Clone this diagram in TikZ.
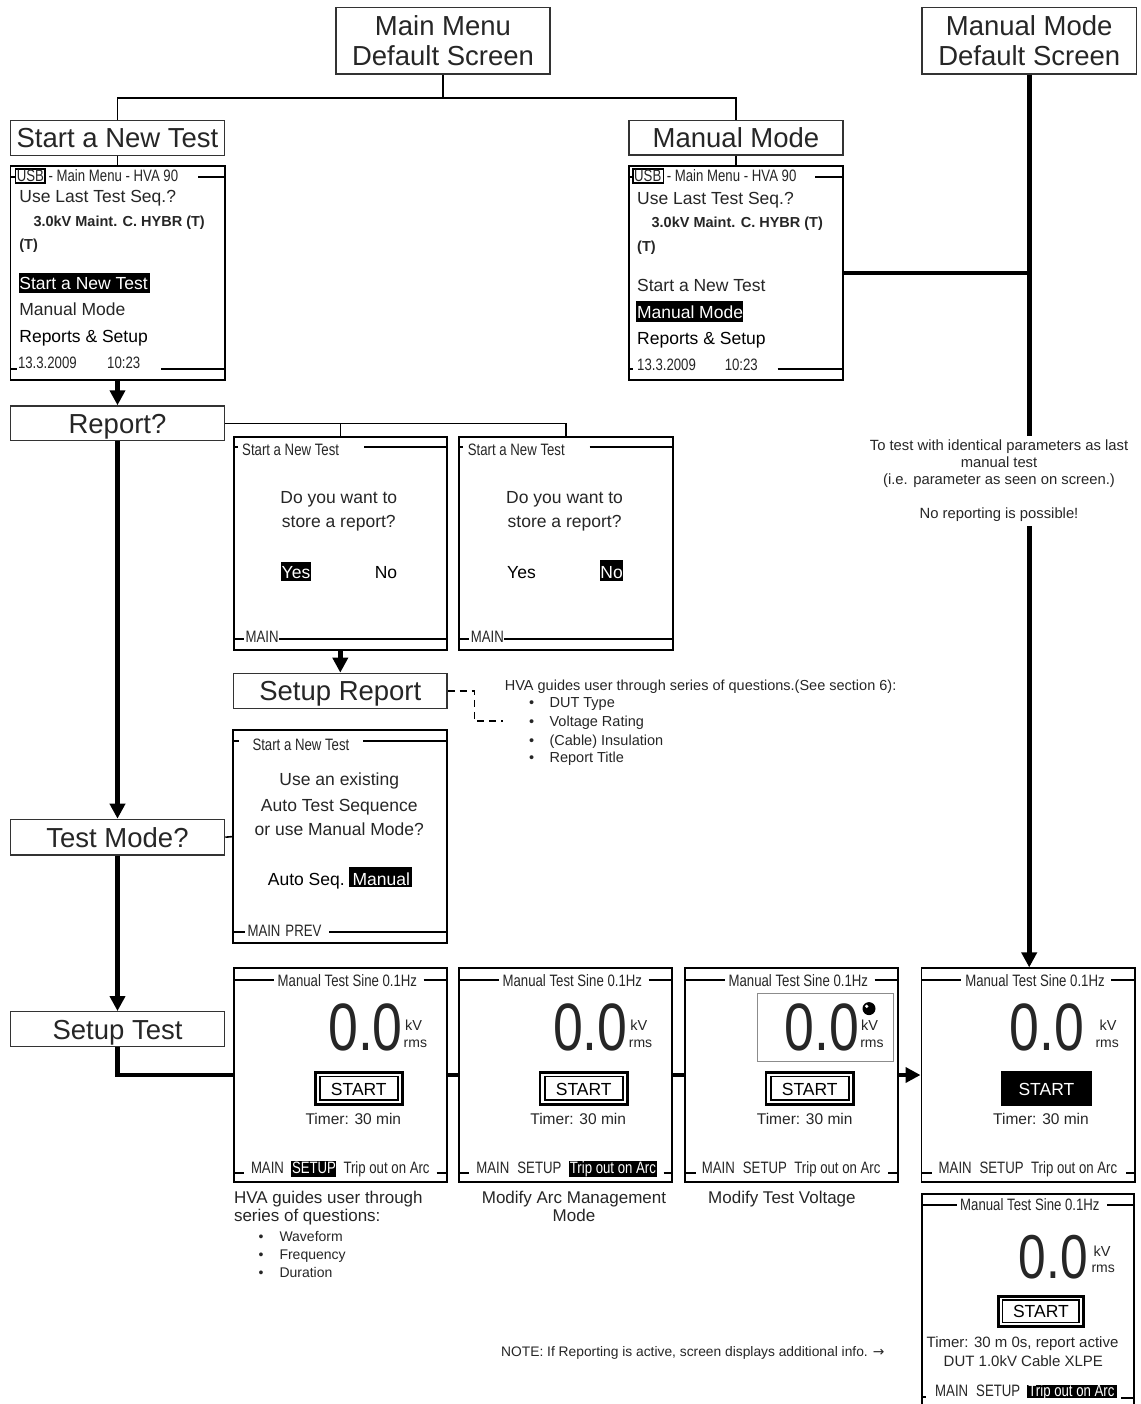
\documentclass[tikz,border=0pt]{standalone}
\usepackage{fontspec}
\setmainfont{Liberation Sans}
\newfontfamily\nrw[FakeStretch=0.8]{Liberation Sans}
\newfontfamily\djv{DejaVu Sans}
\usetikzlibrary{arrows.meta}
\newcommand\fsz[1]{\fontsize{#1}{#1}\selectfont}
\tikzset{
  lbl/.style={draw=black!80, line width=1.3pt, inner sep=0pt, text=black!85, font=\fontsize{27.5}{30.7}\selectfont},
  lblone/.style={lbl, text height=19.7pt, text depth=0pt},
  scr/.style={draw=black, line width=1.8pt, inner sep=0pt},
  sl/.style={line width=1.8pt},
  thk/.style={line width=4.6pt},
  thn/.style={line width=1.6pt},
  tip/.style={-{Triangle[length=15pt,width=15pt]}},
  tw/.style={inner sep=0pt, anchor=base west},
  tcn/.style={inner sep=0pt, anchor=base},
  nt/.style={font=\nrw\fsz{16.5}, text=black!85},
  mt/.style={font=\fsz{17.5}, text=black!85},
}
\newcommand\mtitle{%
  \draw[sl] (0,11.7) -- (40,11.7) (189.8,11.7) -- (213.2,11.7);
  \node[tw,nt] at (43.7,17.7) {Manual Test Sine 0.1Hz};}
\newcommand\mreading[3]{%
  \node[tw,font=\nrw\fsz{67},text=black!85] at (#1,82.4) {0.0};
  \node[tw,font=\fsz{14.5},text=black!85] at (#2,62.4) {kV};
  \node[tw,font=\fsz{14},text=black!85] at (#3,79) {rms};}
\newcommand\mstart{%
  \draw[line width=2.8pt] (81.3,104.1) rectangle (168.8,136);
  \draw[line width=1.6pt] (86,108.3) rectangle (164.1,131.8);
  \node[tcn,font=\fsz{17.5}] at (125,126.7) {START};}
\newcommand\mtimer[1]{\node[tcn,font=\fsz{15.5},text=black!85] at (#1,155.7) {Timer: 30 min};}
\begin{document}
\begin{tikzpicture}[x=1pt,y=-1pt]
\useasboundingbox (0,0) rectangle (1140,1404);
\clip (0,0) rectangle (1140,1404);
\fill[white] (0,0) rectangle (1140,1404);

% ---------- label boxes ----------
\node[lbl, minimum width=214pt, minimum height=66.7pt, align=center] (mm) at (443,40.7) {Main Menu\\Default Screen};
\node[lbl, minimum width=214.4pt, minimum height=66.7pt, align=center] (mmd) at (1029.2,40.7) {Manual Mode\\Default Screen};
\node[lblone, minimum width=214.2pt, minimum height=35pt] (start) at (117.5,137.8) {Start a New Test};
\node[lblone, minimum width=214pt, minimum height=34.6pt] (manual) at (736,137.8) {Manual Mode};
\node[lblone, minimum width=213.8pt, minimum height=34.7pt] (report) at (117.5,423.3) {Report?};
\node[lblone, minimum width=213.4pt, minimum height=35pt] (setuprep) at (340.3,690.8) {Setup Report};
\node[lblone, minimum width=214.3pt, minimum height=35.7pt] (testmode) at (117.5,837.2) {Test Mode?};
\node[lblone, minimum width=214.2pt, minimum height=35pt] (setuptest) at (117.5,1029.2) {Setup Test};

% ---------- screens ----------
\node[scr, minimum width=214.2pt, minimum height=214.3pt] (scrA) at (117.5,272.85) {};
\node[scr, minimum width=214pt, minimum height=214.3pt] (scrB) at (736,272.85) {};
\node[scr, minimum width=213.4pt, minimum height=213.3pt] (q1) at (340.3,543.35) {};
\node[scr, minimum width=213.8pt, minimum height=213.3pt] (q2) at (565.7,543.35) {};
\node[scr, minimum width=214pt, minimum height=213.3pt] (tms) at (339.7,836.65) {};
\node[scr, minimum width=213.2pt, minimum height=213.4pt] (s1) at (340.4,1075) {};
\node[scr, minimum width=213.3pt, minimum height=213.4pt] (s2) at (565.35,1075) {};
\node[scr, minimum width=213.1pt, minimum height=213.4pt] (s3) at (791.25,1075) {};
\node[scr, minimum width=213.9pt, minimum height=213.4pt] (s4) at (1028.35,1075) {};
\node[scr, minimum width=212.6pt, minimum height=240pt] (s5) at (1028,1314) {};

% ---------- note texts ----------
\node[font=\fontsize{14.8}{17}\selectfont, text=black!85, align=center, inner xsep=2pt, inner ysep=4pt, anchor=north] (note) at (999,436)
  {To test with identical parameters as last\\manual test\\(i.e. parameter as seen on screen.)\\[17pt]No reporting is possible!};

\coordinate (hvaend) at (503,721);
\node[tw,font=\fsz{14.5},text=black!85] (hva) at (504.7,690) {HVA guides user through series of questions.(See section 6):};
\foreach \yy/\tt in {707.3/DUT Type, 726.7/Voltage Rating, 745/(Cable) Insulation, 762.7/Report Title}{
  \node[tw,font=\fsz{14.5},text=black!85] at (529,\yy) {\textbullet};
  \node[tw,font=\fsz{14.5},text=black!85] at (549.4,\yy) {\tt};
}

% ---------- connectors ----------
\draw[thn] (mm.south) -- ++(0,23.3) coordinate (jn);
\draw[thn] (start.north) |- (jn) -| (manual.north);
\draw[thn] (start.south) -- (scrA.north);
\draw[thn] (manual.south) -- (scrB.north);
\draw[thk,tip] (scrA.south) -- (report.north);
\draw[thn] (report.east) -| (q2.north);
\draw[thn] (report.east -| q1.north) -- (q1.north);
\draw[thk,tip] (q1.south) -- (setuprep.north);
\draw[thn, dash pattern=on 7pt off 5pt] (setuprep.east) -- ++(27,0) |- (hvaend);
\draw[thk,tip] (report.south) -- (testmode.north);
\draw[thn] (testmode.east) -- (tms.west);
\draw[thk,tip] (testmode.south) -- (setuptest.north);
\draw[thk] (setuptest.south) |- (s1.west);
\draw[thk] (s1.east) -- (s2.west);
\draw[thk] (s2.east) -- (s3.west);
\draw[thk,tip] (s3.east) -- (s4.west);
\draw[thk] (scrB.east) -- (scrB.east -| mmd.south);
\draw[thk] (mmd.south) -- (mmd.south |- note.north);
\draw[thk,tip] (mmd.south |- note.south) -- (mmd.south |- s4.north);

% ---------- screen A ----------
\begin{scope}[shift={(10.4,165.7)}]
\draw[sl] (0,11) -- (5.1,11) (187.6,11) -- (214.2,11);
\draw[line width=1.3pt] (5.1,3.3) rectangle (34.6,17.3);
\node[tw,nt] at (6.2,16) {USB};
\node[tw,nt] at (38,16) {- Main Menu - HVA 90};
\node[tw,mt] at (8.8,37.3) {Use Last Test Seq.?};
\node[tw,font=\bfseries\fsz{14.5},text=black!85] at (22.9,61) {3.0kV Maint. C. HYBR (T)};
\node[tw,font=\bfseries\fsz{14.5},text=black!85] at (8.8,84.3) {(T)};
\fill (8.8,107.6) rectangle (139.4,127.6);
\node[tw,font=\fsz{17.5},text=white] at (8.8,124.3) {Start a New Test};
\node[tw,mt] at (8.8,150.3) {Manual Mode};
\node[tw,font=\fsz{17.5}] at (8.8,177) {Reports \& Setup};
\node[tw,nt] at (7.4,202.3) {13.3.2009};
\node[tw,nt] at (96.6,202.3) {10:23};
\draw[sl] (0,203.6) -- (6.4,203.6) (150.6,203.6) -- (214.2,203.6);
\end{scope}

% ---------- screen B ----------
\begin{scope}[shift={(629,165.7)}]
\draw[sl] (0,11) -- (3.9,11) (186,11) -- (214,11);
\draw[line width=1.3pt] (3.9,3.3) rectangle (34.2,17.3);
\node[tw,nt] at (5,16) {USB};
\node[tw,nt] at (37.6,16) {- Main Menu - HVA 90};
\node[tw,mt] at (8,38.6) {Use Last Test Seq.?};
\node[tw,font=\bfseries\fsz{14.5},text=black!85] at (22.4,62.3) {3.0kV Maint. C. HYBR (T)};
\node[tw,font=\bfseries\fsz{14.5},text=black!85] at (8,85.6) {(T)};
\node[tw,mt] at (8,126) {Start a New Test};
\fill (7.4,135.3) rectangle (113.9,156);
\node[tw,font=\fsz{17.5},text=white] at (7.8,152.3) {Manual Mode};
\node[tw,font=\fsz{17.5}] at (8,178.3) {Reports \& Setup};
\node[tw,nt] at (8,204.6) {13.3.2009};
\node[tw,nt] at (95.6,204.6) {10:23};
\draw[sl] (0,203.6) -- (3.5,203.6) (148.5,203.6) -- (214,203.6);
\end{scope}

% ---------- report question screens ----------
\begin{scope}[shift={(233.6,436.7)}]
\draw[sl] (0,10.6) -- (4.5,10.6) (130.4,10.6) -- (213.4,10.6);
\node[tw,nt] at (8.4,18.3) {Start a New Test};
\node[tcn,mt] at (105.2,66.6) {Do you want to};
\node[tcn,mt] at (105.2,90.6) {store a report?};
\fill (47.4,125) rectangle (77.8,144.3);
\node[tw,font=\fsz{17.5},text=white] at (47.9,141.3) {Yes};
\node[tw,font=\fsz{17.5}] at (141,141.3) {No};
\draw[sl] (0,202.6) -- (10.5,202.6) (45.5,202.6) -- (213.4,202.6);
\node[tw,nt] at (11.8,205.4) {MAIN};
\end{scope}
\begin{scope}[shift={(458.8,436.7)}]
\draw[sl] (0,10.6) -- (4.5,10.6) (130.8,10.6) -- (213.8,10.6);
\node[tw,nt] at (8.9,18.3) {Start a New Test};
\node[tcn,mt] at (105.8,66.6) {Do you want to};
\node[tcn,mt] at (105.8,90.6) {store a report?};
\node[tw,font=\fsz{17.5}] at (48.2,141.3) {Yes};
\fill (141,123.3) rectangle (164.2,144.3);
\node[tw,font=\fsz{17.5},text=white] at (141.4,141.3) {No};
\draw[sl] (0,202.6) -- (10.5,202.6) (45.5,202.6) -- (213.8,202.6);
\node[tw,nt] at (11.8,205.4) {MAIN};
\end{scope}

% ---------- test mode screen ----------
\begin{scope}[shift={(232.7,730)}]
\draw[sl] (0,11) -- (6.6,11) (130.6,11) -- (214,11);
\node[tw,nt] at (19.6,20.7) {Start a New Test};
\node[tcn,mt] at (106.6,55) {Use an existing};
\node[tcn,mt] at (106.6,81.7) {Auto Test Sequence};
\node[tcn,mt] at (106.6,105) {or use Manual Mode?};
\node[tw,font=\fsz{17.5}] at (35,155.7) {Auto Seq.};
\fill (116.6,136.7) rectangle (179.6,156.7);
\node[tw,font=\fsz{17.5},text=white] at (119.6,155.2) {Manual};
\draw[sl] (0,202.3) -- (12.3,202.3) (96.6,202.3) -- (214,202.3);
\node[tw,nt] at (14.6,206) {MAIN\hspace{5pt}PREV};
\end{scope}

% ---------- manual test screens ----------
\begin{scope}[shift={(233.8,968.3)}]
\mtitle \mreading{94.2}{171.2}{169.7} \mstart \mtimer{119.5}
\draw[sl] (0,205) -- (10.2,205) (202.7,205) -- (213.2,205);
\node[tw,nt] at (17,205) {MAIN};
\fill (57.2,192.7) rectangle (102.2,208.4);
\node[tw,font=\nrw\fsz{16.5},text=white] at (58,205) {SETUP};
\node[tw,nt] at (109.5,205) {Trip out on Arc};
\end{scope}
\begin{scope}[shift={(458.7,968.3)}]
\mtitle \mreading{94.2}{171.4}{170} \mstart \mtimer{119.5}
\draw[sl] (0,205) -- (10.2,205) (204.9,205) -- (213.3,205);
\node[tw,nt] at (17.5,205) {MAIN};
\node[tw,nt] at (58.5,205) {SETUP};
\fill (110.5,192.7) rectangle (198.3,208.4);
\node[tw,font=\nrw\fsz{16.5},text=white] at (111,205) {Trip out on Arc};
\end{scope}
\begin{scope}[shift={(684.7,968.3)}]
\mtitle
\draw[black!45, line width=1pt] (72.5,25) rectangle (208.3,92.7);
\mreading{99.7}{176.2}{175.4} \mstart \mtimer{120}
\fill[black] (184.3,40.3) circle (6.5);
\fill[white] (182,38) circle (1.8);
\draw[sl] (0,205) -- (11.3,205) (203.3,205) -- (213.1,205);
\node[tw,nt] at (17,205) {MAIN};
\node[tw,nt] at (58,205) {SETUP};
\node[tw,nt] at (109.5,205) {Trip out on Arc};
\end{scope}
\begin{scope}[shift={(921.4,968.3)}]
\mtitle \mreading{88.1}{178}{173.9}
\fill (79.9,102.7) rectangle (170.2,137.4);
\node[tcn,font=\fsz{17.5},text=white] at (125,126.7) {START};
\mtimer{119.6}
\draw[sl] (0,205) -- (10.4,205) (204.6,205) -- (213.9,205);
\node[tw,nt] at (17.1,205) {MAIN};
\node[tw,nt] at (58,205) {SETUP};
\node[tw,nt] at (109.5,205) {Trip out on Arc};
\end{scope}
\begin{scope}[shift={(921.7,1194)}]
\draw[sl] (0,10.7) -- (35.6,10.7) (185.6,10.7) -- (212.6,10.7);
\node[tw,nt] at (38.3,16) {Manual Test Sine 0.1Hz};
\node[tw,font=\nrw\fsz{62},text=black!85] at (97,84.3) {0.0};
\node[tw,font=\fsz{14.5},text=black!85] at (171.6,62.7) {kV};
\node[tw,font=\fsz{14},text=black!85] at (169.6,78.7) {rms};
\draw[line width=2.8pt] (76.4,102.4) rectangle (161.9,132.3);
\draw[line width=1.6pt] (80.8,106.1) rectangle (157.5,128.5);
\node[tcn,font=\fsz{17.5}] at (119.2,123.3) {START};
\node[tcn,font=\fsz{15},text=black!85] at (100.8,153.3) {Timer: 30 m 0s, report active};
\node[tcn,font=\fsz{15},text=black!85] at (101.6,172) {DUT 1.0kV Cable XLPE};
\draw[sl] (0,203.3) -- (4.3,203.3) (199.7,204.3) -- (212.6,204.3);
\node[tw,nt] at (13.3,202.5) {MAIN};
\node[tw,nt] at (54.3,202.5) {SETUP};
\fill (105,190.5) rectangle (195,204);
\node[tw,font=\nrw\fsz{16.5},text=white] at (106.5,202.5) {Trip out on Arc};
\end{scope}

% ---------- captions ----------
\node[tw,font=\fsz{17},text=black!85] at (233.8,1203.3) {HVA guides user through};
\node[tw,font=\fsz{17},text=black!85] at (233.8,1221.7) {series of questions:};
\foreach \yy/\tt in {1241.7/Waveform, 1259.3/Frequency, 1277.7/Duration}{
  \node[tw,font=\fsz{14},text=black!85] at (258.3,\yy) {\textbullet};
  \node[tw,font=\fsz{14},text=black!85] at (279.3,\yy) {\tt};
}
\node[tcn,font=\fsz{17},text=black!85] at (574,1203) {Modify Arc Management};
\node[tcn,font=\fsz{17},text=black!85] at (574,1221.7) {Mode};
\node[tw,font=\fsz{17},text=black!85] at (708,1203) {Modify Test Voltage};
\node[tw,font=\fsz{13.8},text=black!85] at (501,1356.7) {NOTE: If Reporting is active, screen displays additional info. {\djv →}};
\end{tikzpicture}
\end{document}
